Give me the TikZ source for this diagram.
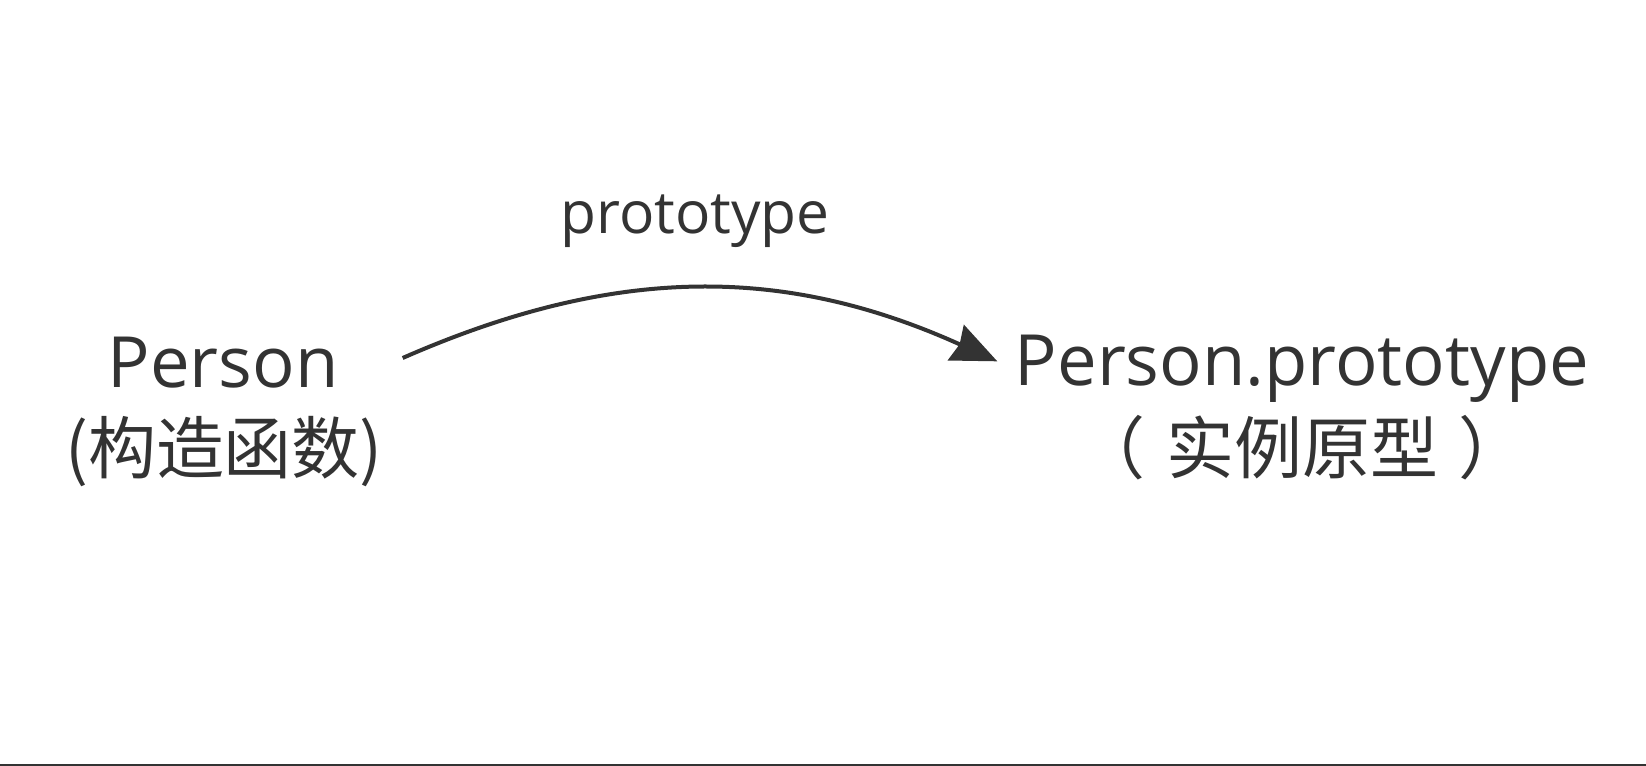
\documentclass[tikz,border=0pt]{standalone}
\usepackage{fontspec}
\usepackage{tikz}
\usetikzlibrary{arrows.meta, positioning}
\setmainfont{Open Sans}
\newfontfamily\cjk{Noto Sans CJK SC}
\definecolor{inkgray}{RGB}{51,51,51}
\tikzstyle{ttl}=[inner sep=0pt, anchor=base, text=inkgray,
  font=\fontsize{53}{62}\selectfont, text height=37pt, text depth=0pt]
\tikzstyle{sub}=[inner sep=0pt, anchor=base, text=inkgray,
  font=\cjk\fontsize{51}{60}\selectfont]
\tikzstyle{lbl}=[inner sep=0pt, text=inkgray, font=\fontsize{44}{50}\selectfont]
\tikzstyle{parr}=[-{Stealth[length=34pt, width=29pt, inset=3pt]},
  line width=3pt, color=inkgray]

\begin{document}
\begin{tikzpicture}[x=0.75pt, y=-0.75pt]
        \useasboundingbox (0,0) rectangle (1646,766);
        \node[ttl] (person) at (223,388) {Person};
        \node[sub] (personcn) at (224,474) {(构造函数)};
        \node[ttl] (proto) at (1302,386) {Person.prototype};
        \node[sub] (protocn) at (1302,474) {（\hspace{0.3em}实例原型\hspace{0.3em}）};
        \draw[parr] ([xshift=48pt, yshift=4pt]person.east) to[bend left=24]
          node[lbl, above=29pt, xshift=-4pt] (protolbl) {prototype}
          ([xshift=-13pt]proto.west);
        % bottom edge
        \draw[inkgray, line width=1.5pt] (0,765) -- (1646,765);
      \end{tikzpicture}
\end{document}
